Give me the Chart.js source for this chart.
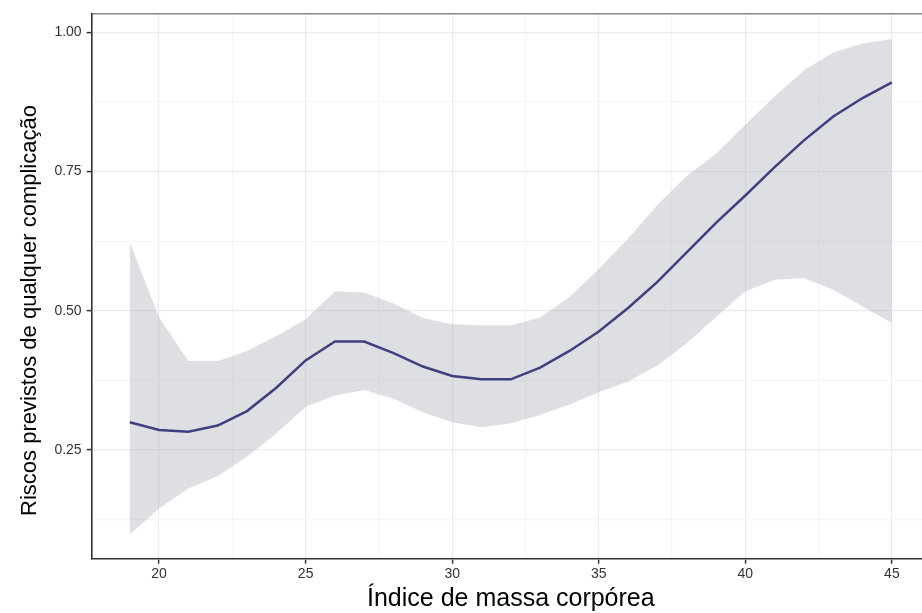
<!DOCTYPE html>
<html>
<head>
<meta charset="utf-8">
<script src="https://cdn.jsdelivr.net/npm/chart.js@4.4.1/dist/chart.umd.min.js"></script>
<style>
  html, body { margin: 0; padding: 0; background: #ffffff; overflow: hidden; }
  #wrap { position: relative; width: 940px; height: 613px; }
</style>
</head>
<body>
<div id="wrap"><canvas id="c"></canvas></div>
<script>
// ---- data ----
const bmi = [19, 20, 21, 22, 23, 24, 25, 26, 27, 28, 29, 30, 31, 32, 33, 34, 35, 36, 37, 38, 39, 40, 41, 42, 43, 44, 45];
const riskFit = [0.300, 0.286, 0.283, 0.294, 0.320, 0.362, 0.411, 0.445, 0.445, 0.424, 0.400, 0.383, 0.377, 0.377, 0.398, 0.428, 0.463, 0.505, 0.552, 0.605, 0.658, 0.707, 0.758, 0.806, 0.849, 0.882, 0.910];
const riskUpper = [0.623, 0.488, 0.410, 0.410, 0.428, 0.455, 0.485, 0.535, 0.533, 0.513, 0.487, 0.476, 0.474, 0.474, 0.488, 0.525, 0.575, 0.630, 0.690, 0.742, 0.782, 0.834, 0.885, 0.932, 0.964, 0.980, 0.988];
const riskLower = [0.099, 0.145, 0.181, 0.203, 0.238, 0.280, 0.328, 0.348, 0.358, 0.342, 0.318, 0.300, 0.291, 0.298, 0.313, 0.332, 0.354, 0.373, 0.402, 0.442, 0.489, 0.535, 0.556, 0.559, 0.538, 0.508, 0.478];
const xMajorTicks = [20, 25, 30, 35, 40, 45];
const xMinorTicks = [22.5, 27.5, 32.5, 37.5, 42.5];
const yMajorTicks = [0.25, 0.50, 0.75, 1.00];
const yMinorTicks = [0.125, 0.375, 0.625, 0.875];
const xTitle = 'Índice de massa corpórea';
const yTitle = 'Riscos previstos de qualquer complicação';

const pts = arr => bmi.map((x, i) => ({ x: x, y: arr[i] }));
const isMajor = (v, majors) => majors.some(m => Math.abs(m - v) < 1e-9);

const FONT = "'Liberation Sans', Arial, sans-serif";
const MAJOR_GRID = '#ebebeb';
const MINOR_GRID = '#f5f5f5';
const BAND = 'rgba(170,175,185,0.40)';

new Chart(document.getElementById('c'), {
  type: 'line',
  data: {
    datasets: [
      {
        label: 'fit',
        data: pts(riskFit),
        borderColor: '#3f4080',
        borderWidth: 2.5,
        pointRadius: 0,
        tension: 0,
        fill: false
      },
      {
        label: 'upper',
        data: pts(riskUpper),
        borderWidth: 0,
        borderColor: 'rgba(0,0,0,0)',
        pointRadius: 0,
        tension: 0,
        fill: false
      },
      {
        label: 'lower',
        data: pts(riskLower),
        borderWidth: 0,
        borderColor: 'rgba(0,0,0,0)',
        backgroundColor: BAND,
        pointRadius: 0,
        tension: 0,
        fill: '-1'
      }
    ]
  },
  options: {
    responsive: true,
    maintainAspectRatio: false,
    animation: false,
    layout: { padding: { left: 2, top: 10, right: 10, bottom: 0 } },
    plugins: {
      legend: { display: false },
      tooltip: { enabled: false }
    },
    scales: {
      x: {
        type: 'linear',
        position: 'bottom',
        min: 17.7,
        max: 46.3,
        afterBuildTicks: s => { s.ticks = xMajorTicks.concat(xMinorTicks).sort((a, b) => a - b).map(v => ({ value: v })); },
        ticks: {
          autoSkip: false,
          maxRotation: 0,
          padding: 2.5,
          color: '#333333',
          font: { family: FONT, size: 14 },
          callback: v => isMajor(v, xMajorTicks) ? String(v) : ''
        },
        grid: {
          color: c => isMajor(c.tick.value, xMajorTicks) ? MAJOR_GRID : MINOR_GRID,
          lineWidth: 1.2,
          tickLength: 5,
          tickColor: c => isMajor(c.tick.value, xMajorTicks) ? '#333333' : 'rgba(0,0,0,0)',
          tickWidth: 1.5
        },
        border: { display: true, color: '#333333', width: 1.6 },
        title: {
          display: true,
          text: xTitle,
          color: '#000000',
          font: { family: FONT, size: 25, lineHeight: 1.1 },
          padding: { top: 0, bottom: 0 }
        }
      },
      xTop: {
        type: 'linear',
        position: 'top',
        display: true,
        min: 0, max: 1,
        ticks: { display: false },
        grid: { display: false, drawTicks: false },
        border: { display: true, color: '#8a8a8a', width: 1.6 }
      },
      y: {
        type: 'linear',
        position: 'left',
        min: 0.055,
        max: 1.034,
        afterBuildTicks: s => { s.ticks = yMajorTicks.concat(yMinorTicks).sort((a, b) => a - b).map(v => ({ value: v })); },
        ticks: {
          autoSkip: false,
          padding: 5,
          color: '#333333',
          font: { family: FONT, size: 14 },
          callback: v => isMajor(v, yMajorTicks) ? v.toFixed(2) : ''
        },
        grid: {
          color: c => isMajor(c.tick.value, yMajorTicks) ? MAJOR_GRID : MINOR_GRID,
          lineWidth: 1.2,
          tickLength: 5,
          tickColor: c => isMajor(c.tick.value, yMajorTicks) ? '#333333' : 'rgba(0,0,0,0)',
          tickWidth: 1.5
        },
        border: { display: true, color: '#333333', width: 1.6 },
        title: {
          display: true,
          text: yTitle + ' '.repeat(8),
          color: '#000000',
          font: { family: FONT, size: 22 },
          padding: { top: 15, bottom: 6 }
        }
      }
    }
  }
});
</script>
</body>
</html>
